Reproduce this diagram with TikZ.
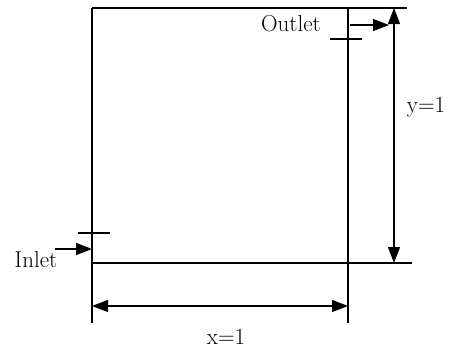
\documentclass[tikz,border=0pt]{standalone}
\usepackage{fontspec}
\usetikzlibrary{arrows.meta}
\tikzset{
  wall/.style={line width=1.7pt},
  thin/.style={line width=1.2pt},
  tip/.tip={Triangle[length=16pt,width=12pt]},
  lbl/.style={font=\fontsize{23}{27}\selectfont,inner sep=0pt}
}
\begin{document}
\begin{tikzpicture}[x=1pt,y=-1pt]
\useasboundingbox (0,0) rectangle (452,354);
% corners of the domain
\coordinate (tl) at (92,8);
\coordinate (tr) at (348,8);
\coordinate (bl) at (92,263);
\coordinate (br) at (348,263);
% walls, extended below for the x dimension
\draw[wall] (tl) -- (92,323);
\draw[wall] (tr) -- (348,323);
\draw[wall] (tl) -- (tr);
\draw[wall] (bl) -- (br);
% extension lines on the right
\coordinate (ytop) at (394,8);
\coordinate (ybot) at (394,263);
\draw[thin] (tr) -- (407,8);
\draw[thin] (br) -- (412,263);
\draw[thin,tip-tip] (ytop) -- (ybot);
\node[lbl] (ylab) at (426,107) {y=1};
% x dimension
\coordinate (xl) at (92,306);
\coordinate (xr) at (348,306);
\draw[thin,tip-tip] (xl) -- (xr);
\node[lbl] (xlab) at (226,337) {x=1};
% inlet
\draw[thin] (78,233) -- (110,233);
\coordinate (inS) at (55,249);
\coordinate (inE) at (92,249);
\draw[thin,-tip] (inS) -- (inE);
\node[lbl] (inlet) at (36,260) {Inlet};
% outlet
\draw[thin] (330,39) -- (362,39);
\coordinate (outS) at (350,25);
\coordinate (outE) at (389,25);
\draw[thin,-tip] (outS) -- (outE);
\node[lbl] (outlet) at (291,24) {Outlet};
\end{tikzpicture}
\end{document}
